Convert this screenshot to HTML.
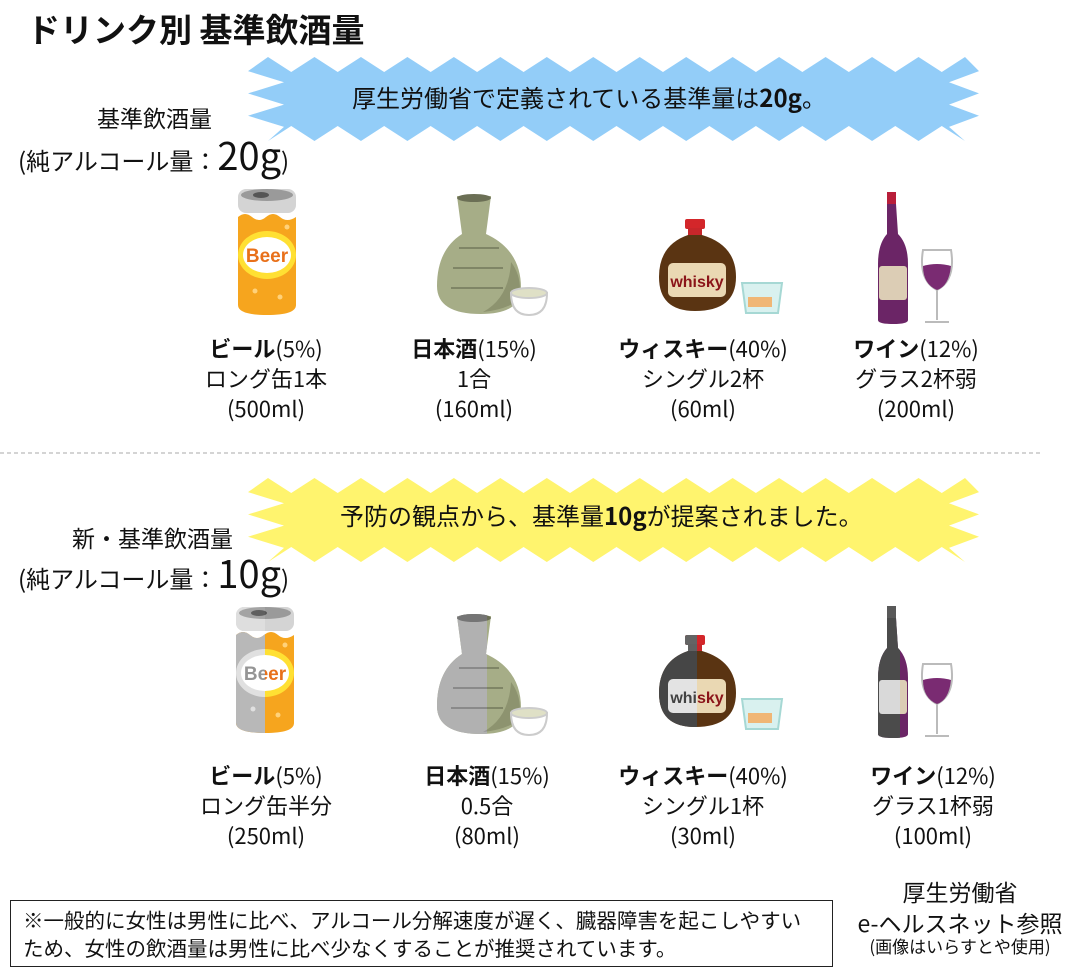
<!DOCTYPE html>
<html><head><meta charset="utf-8"><style>
body{margin:0;width:1091px;height:973px;background:#fff;position:relative;overflow:hidden;font-family:"Noto Sans CJK JP","Liberation Sans",sans-serif;color:#111}
.t{position:absolute;white-space:nowrap}
.c{position:absolute;text-align:center;font-size:22px;line-height:30px;transform:translateX(-50%);white-space:nowrap}
.img{position:absolute}
.img svg{position:absolute;left:0;top:0}
.half{position:absolute;left:0;top:0;overflow:hidden;height:140px}
</style></head><body>
<div class="t" style="left:27px;top:5px;font-size:33px;font-weight:bold;line-height:46px">ドリンク別 基準飲酒量</div>

<svg class="img" style="left:0;top:0" width="1091" height="973">
<polygon id="b1" fill="#93cdf8"/>
<polygon id="b2" fill="#fff46e"/>
<line x1="0" y1="453" x2="1040" y2="453" stroke="#aaa" stroke-dasharray="4,3"/>
</svg>
<script>
function burst(id,x0,y0,x1,y1,n,m){var p=[],d=12;
for(var i=0;i<=n;i++){var x=x0+ (x1-x0)*i/n;p.push([x,i%2?y0+d:y0-3]);}
for(var j=1;j<m;j++){var y=y0+(y1-y0)*j/m;p.push([j%2?x1+14:x1-16,y]);}
for(var i=n;i>=0;i--){var x=x0+(x1-x0)*i/n;p.push([x,i%2?y1-d:y1+3]);}
for(var j=m-1;j>0;j--){var y=y0+(y1-y0)*j/m;p.push([j%2?x0-20:x0+16,y]);}
document.getElementById(id).setAttribute('points',p.map(function(q){return q.join(',')}).join(' '));}
burst('b1',268,60,965,138,30,7);burst('b2',268,481,965,559,30,7);
</script>

<div class="t" style="left:352px;top:80px;font-size:24px;line-height:34px">厚生労働省で定義されている基準量は<b>20g</b>。</div>
<div class="t" style="left:340px;top:498px;font-size:24px;line-height:34px">予防の観点から、基準量<b>10g</b>が提案されました。</div>

<div class="t" style="left:97px;top:101px;font-size:23px;line-height:32px">基準飲酒量</div>
<div class="t" style="left:18px;top:134px;font-size:24px;line-height:40px">(純アルコール量：<span style="font-size:38px">20g</span>)</div>
<div class="t" style="left:72px;top:521px;font-size:23px;line-height:32px">新・基準飲酒量</div>
<div class="t" style="left:18px;top:552px;font-size:24px;line-height:40px">(純アルコール量：<span style="font-size:38px">10g</span>)</div>

<div class="c" style="left:266px;top:333px"><b>ビール</b>(5%)<br>ロング缶1本<br>(500ml)</div>
<div class="c" style="left:474px;top:333px"><b>日本酒</b>(15%)<br>1合<br>(160ml)</div>
<div class="c" style="left:703px;top:333px"><b>ウィスキー</b>(40%)<br>シングル2杯<br>(60ml)</div>
<div class="c" style="left:916px;top:333px"><b>ワイン</b>(12%)<br>グラス2杯弱<br>(200ml)</div>

<div class="c" style="left:266px;top:760px"><b>ビール</b>(5%)<br>ロング缶半分<br>(250ml)</div>
<div class="c" style="left:487px;top:760px"><b>日本酒</b>(15%)<br>0.5合<br>(80ml)</div>
<div class="c" style="left:703px;top:760px"><b>ウィスキー</b>(40%)<br>シングル1杯<br>(30ml)</div>
<div class="c" style="left:933px;top:760px"><b>ワイン</b>(12%)<br>グラス1杯弱<br>(100ml)</div>

<div class="t" style="left:10px;top:900px;width:823px;height:67px;border:1px solid #222;font-size:20.5px;line-height:28px;padding:4px 0 0 12px;box-sizing:border-box">※一般的に女性は男性に比べ、アルコール分解速度が遅く、臓器障害を起こしやすい<br>ため、女性の飲酒量は男性に比べ少なくすることが推奨されています。</div>
<div class="c" style="left:960px;top:876px;font-size:23px;line-height:31px">厚生労働省<br>e-ヘルスネット参照</div>
<div class="c" style="left:960px;top:935px;font-size:17px;line-height:22px">(画像はいらすとや使用)</div>

<template id="beer"><svg width="64" height="130" viewBox="0 0 64 130"><rect x="3" y="2" width="58" height="24" rx="8" fill="#d4d4d4"/><ellipse cx="32" cy="8" rx="26" ry="6" fill="#9a9a9a"/><ellipse cx="26" cy="8" rx="8" ry="3" fill="#555555"/><path d="M3 30 q7-6 14 0 t14 0 t14 0 t16 0 V118 q0 10 -29 10 q-29 0 -29 -10z" fill="#f6a51e"/><ellipse cx="32" cy="68" rx="29" ry="24" fill="#ffe033"/><ellipse cx="32" cy="68" rx="24" ry="18" fill="#ffffff"/><text x="32" y="75" text-anchor="middle" font-size="19" font-weight="bold" fill="#e8701a" font-family="Liberation Sans">Beer</text><circle cx="20" cy="104" r="2.5" fill="#ffd27a"/><circle cx="45" cy="110" r="2.5" fill="#ffd27a"/><circle cx="52" cy="40" r="2.5" fill="#ffd27a"/></svg></template>
<template id="sake"><svg width="114" height="126" viewBox="0 0 114 126"><path d="M20 6 h34 l-5 38 q35 16 35 54 q0 26 -40 26 q-44 0 -44 -28 q0 -36 25 -52 z" fill="#a6ad87"/><ellipse cx="37" cy="8" rx="17" ry="4" fill="#6b6f55"/><path d="M74 72 q12 16 8 38 q-14 10 -36 12 q26 -14 28 -50z" fill="#8d936f"/><path d="M22 58 h40 M16 78 h50 M14 98 h52" stroke="#7f8566" stroke-width="2"/><path d="M110 103 q0 22 -18 22 q-18 0 -18 -22z" fill="#ffffff" stroke="#cccccc" stroke-width="2"/><ellipse cx="92" cy="103" rx="18" ry="5" fill="#dfe0c6" stroke="#cccccc" stroke-width="2"/></svg></template>
<template id="whisky"><svg width="128" height="100" viewBox="0 0 128 100"><rect x="27" y="2" width="20" height="10" rx="2" fill="#d3262a"/><rect x="30" y="11" width="14" height="8" fill="#c7262a"/><path d="M30 18 h14 q34 10 34 42 q0 34 -41 34 q-36 0 -36 -34 q0 -32 29 -42z" fill="#5a3412"/><rect x="10" y="46" width="58" height="34" rx="5" fill="#ead8b3"/><text x="39" y="70" text-anchor="middle" font-size="16" font-weight="bold" fill="#8b1419" font-family="Liberation Sans">whisky</text><path d="M84 66 h40 l-4 30 h-32z" fill="#d9f1ef" stroke="#a6d8d4" stroke-width="2"/><rect x="90" y="80" width="24" height="10" fill="#f0b675"/></svg></template>
<template id="wine"><svg width="82" height="136" viewBox="0 0 82 136"><rect x="10" y="2" width="9" height="12" fill="#b81e3a"/><path d="M10 14 h9 l2 30 q10 10 10 30 v56 q0 4 -15 4 q-15 0 -15 -4 v-56 q0 -20 9 -30z" fill="#6b2566"/><rect x="2" y="76" width="28" height="34" rx="3" fill="#dccdb5"/><path d="M46 60 h28 q5 30 -14 40 q-19 -10 -14 -40z" fill="#ffffff" stroke="#bbbbbb" stroke-width="2"/><path d="M46 76 q14 -4 28 0 q-2 20 -14 24 q-14 -6 -14 -24z" fill="#7a2b72"/><path d="M60 100 v30 M48 132 h24" stroke="#bbbbbb" stroke-width="2"/></svg></template>

<div id="imgs"></div>
<script>
function gray(s){return s.replace(/#([0-9a-fA-F]{6})/g,function(m,h){var r=parseInt(h.substr(0,2),16),g=parseInt(h.substr(2,2),16),b=parseInt(h.substr(4,2),16);var l=Math.round(.3*r+.59*g+.11*b);l=Math.min(255,l+10);var x=('0'+l.toString(16)).slice(-2);return '#'+x+x+x;});}
var pl=[['beer',235,187,0,64],['sake',437,190,0,114],['whisky',658,217,0,128],['wine',877,190,0,82],
['beer',233,605,1,64],['sake',437,610,1,100],['whisky',658,633,1,78],['wine',877,604,1,46]];
var h='';pl.forEach(function(p){var s=document.getElementById(p[0]).innerHTML;
h+='<div class="img" style="left:'+p[1]+'px;top:'+p[2]+'px">'+s+(p[3]?'<div class="half" style="width:'+(p[4]/2)+'px">'+gray(s)+'</div>':'')+'</div>';});
document.getElementById('imgs').innerHTML=h;
</script>
</body></html>
